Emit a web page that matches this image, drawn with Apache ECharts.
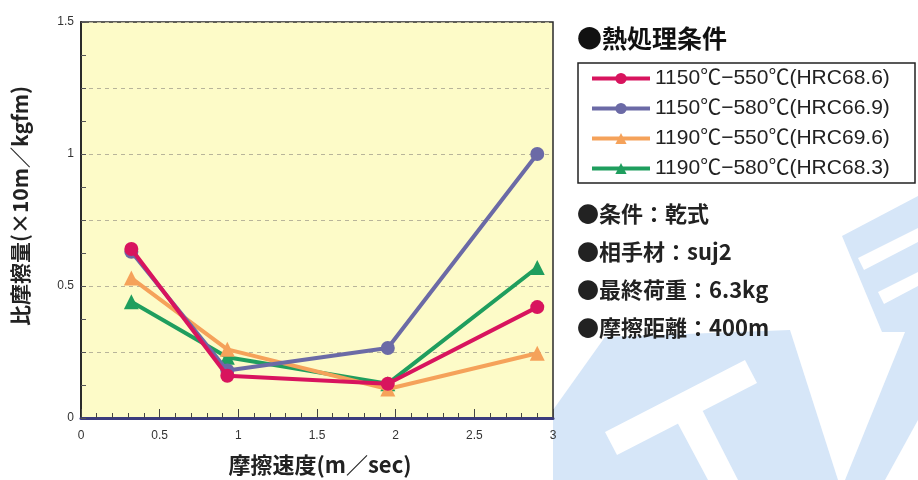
<!DOCTYPE html>
<html>
<head>
<meta charset="utf-8">
<script src="https://cdn.jsdelivr.net/npm/echarts@6/dist/echarts.min.js"></script>
<style>
html,body{margin:0;padding:0;background:#fff;}
#chart{width:918px;height:480px;}
</style>
</head>
<body>
<div id="chart"></div>
<script>
// ---- data ----
var speeds = [0.32, 0.93, 1.95, 2.9];
var seriesNames = [
  '1150℃−550℃(HRC68.6)',
  '1150℃−580℃(HRC66.9)',
  '1190℃−550℃(HRC69.6)',
  '1190℃−580℃(HRC68.3)'
];
var wear_1150_550 = [0.64, 0.16, 0.13, 0.42];
var wear_1150_580 = [0.63, 0.18, 0.265, 1.0];
var wear_1190_550 = [0.53, 0.26, 0.11, 0.245];
var wear_1190_580 = [0.44, 0.23, 0.13, 0.57];
var xTicks = [0, 0.5, 1, 1.5, 2, 2.5, 3];
var yTicks = [0, 0.5, 1, 1.5];
var xTitle = '摩擦速度(m／sec)';
var yTitle = '比摩擦量(×10m／kgfm)';
var conditionTitle = '●熱処理条件';
var notes = ['●条件：乾式', '●相手材：suj2', '●最終荷重：6.3kg', '●摩擦距離：400m'];

var colors = ['#d8145e', '#6b6aa6', '#f5a25a', '#1f9e5e'];
var symbols = ['circle', 'circle', 'triangle', 'triangle'];
var allValues = [wear_1150_550, wear_1150_580, wear_1190_550, wear_1190_580];

function pairs(vals){ return speeds.map(function(s,i){ return [s, vals[i]]; }); }

var chart = echarts.init(document.getElementById('chart'));
var FONT = '"Noto Sans CJK JP", "Noto Sans", sans-serif';

var wm = '#d6e6f8';
function poly(pts, fill){ return {type:'polygon', silent:true, z:-10, shape:{points:pts}, style:{fill:fill}}; }
var graphics = [
  // watermark shapes (decorative, behind everything)
  poly([[553,480],[553,410],[605,337],[790,330],[838,480]], wm),
  poly([[605,432],[745,360],[757,383],[617,455]], '#ffffff'),
  poly([[668,405],[693,392],[738,480],[708,480]], '#ffffff'),
  poly([[845,480],[885,480],[918,420],[918,300]], wm),
  poly([[842,236],[918,196],[918,332],[882,332]], wm),
  poly([[858,258],[918,228],[918,242],[864,270]], '#ffffff'),
  poly([[878,292],[918,272],[918,286],[884,304]], '#ffffff'),
  // heading
  {type:'text', left:577, top:26, style:{text:conditionTitle, font:'bold 25px ' + FONT, fill:'#111'}},
  // legend frame
  {type:'rect', shape:{x:578, y:63, width:337, height:120}, style:{fill:'#fff', stroke:'#222', lineWidth:1.5}, z:1},
  // axis titles
  {type:'text', x:320, y:465, style:{text:xTitle, font:'bold 22px ' + FONT, fill:'#222', align:'center', verticalAlign:'middle'}},
  {type:'text', x:20, y:206, rotation:Math.PI/2, style:{text:yTitle, font:'bold 21px ' + FONT, fill:'#222', align:'center', verticalAlign:'middle'}}
];
notes.forEach(function(t, i){
  graphics.push({type:'text', left:577, top:203 + i*38, style:{text:t, font:'bold 22px ' + FONT, fill:'#222'}});
});

var series = allValues.map(function(vals, i){
  return {
    name: seriesNames[i],
    type: 'line',
    data: pairs(vals),
    symbol: symbols[i],
    symbolSize: symbols[i] === 'circle' ? 14 : 15,
    lineStyle: {width: 4, color: colors[i]},
    itemStyle: {color: colors[i]},
    z: 10 - i
  };
});

chart.setOption({
  animation: false,
  backgroundColor: '#ffffff',
  color: colors,
  grid: {
    left: 81, right: 365, top: 22, bottom: 62,
    containLabel: false, outerBoundsMode: 'none',
    show: true, backgroundColor: '#fdfbc8', borderColor: '#2a2a2a', borderWidth: 1.5
  },
  legend: {
    orient: 'vertical',
    left: 590, top: 68, padding: 0,
    itemWidth: 58, itemHeight: 14, itemGap: 9,
    data: seriesNames,
    lineStyle: {width: 4},
    textStyle: {fontSize: 21, lineHeight: 20, color: '#222', fontFamily: '"Liberation Sans", "Noto Sans CJK JP", sans-serif'},
    z: 5
  },
  xAxis: {
    type: 'value', min: 0, max: 3, interval: 0.5,
    axisLine: {show: true, lineStyle: {color: '#3b3b7d', width: 3}},
    axisTick: {show: true, inside: true, length: 9, lineStyle: {color: '#444', width: 1}},
    minorTick: {show: true, splitNumber: 5, length: 5, lineStyle: {color: '#444', width: 1}},
    splitLine: {show: false},
    axisLabel: {fontSize: 12, color: '#333', margin: 12,
      formatter: function(v){ return xTicks.indexOf(v) >= 0 ? String(v) : ''; }}
  },
  yAxis: {
    type: 'value', min: 0, max: 1.5, interval: 0.25,
    axisLine: {show: true, lineStyle: {color: '#2a2a2a', width: 2}},
    axisTick: {show: true, inside: true, length: 5, lineStyle: {color: '#555'}},
    minorTick: {show: true, splitNumber: 2, length: 5, lineStyle: {color: '#555'}},
    splitLine: {show: true, lineStyle: {color: '#b8b49a', type: [4, 4], width: 1}},
    axisLabel: {fontSize: 12, color: '#333', margin: 7,
      formatter: function(v){ return yTicks.indexOf(v) >= 0 ? String(v) : ''; }}
  },
  graphic: graphics,
  series: series
});
</script>
</body>
</html>
